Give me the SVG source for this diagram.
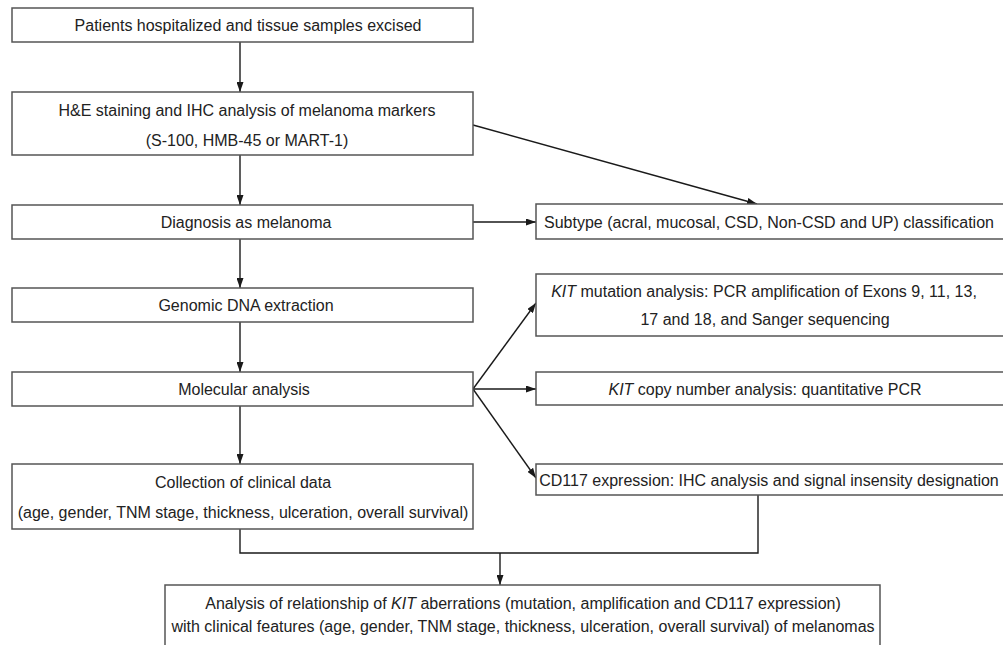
<svg xmlns="http://www.w3.org/2000/svg" width="1003" height="645" viewBox="0 0 1003 645">
<style>
.box{fill:#fff;stroke:#555;stroke-width:1.5}
.t{font-family:"Liberation Sans",Arial,sans-serif;font-size:16px;fill:#222;text-anchor:middle}
.c{fill:none;stroke:#1a1a1a;stroke-width:1.4}
</style>
<defs>
<marker id="ah" viewBox="0 0 10 7" refX="10" refY="3.5" markerWidth="10" markerHeight="7" markerUnits="userSpaceOnUse" orient="auto">
<path d="M0,0 L10,3.5 L0,7 Z" fill="#1a1a1a"/>
</marker>
</defs>
<rect width="1003" height="645" fill="#fff"/>
<g id="connectors">
<line class="c" x1="240" y1="42" x2="240" y2="92" marker-end="url(#ah)"/>
<line class="c" x1="240" y1="155" x2="240" y2="205" marker-end="url(#ah)"/>
<line class="c" x1="240" y1="239" x2="240" y2="288" marker-end="url(#ah)"/>
<line class="c" x1="240" y1="322" x2="240" y2="372" marker-end="url(#ah)"/>
<line class="c" x1="240" y1="406" x2="240" y2="464" marker-end="url(#ah)"/>
<line class="c" x1="473" y1="125" x2="757" y2="204" marker-end="url(#ah)"/>
<line class="c" x1="473" y1="222" x2="536" y2="222" marker-end="url(#ah)"/>
<line class="c" x1="473" y1="389" x2="536" y2="303" marker-end="url(#ah)"/>
<line class="c" x1="473" y1="389" x2="536" y2="389" marker-end="url(#ah)"/>
<line class="c" x1="473" y1="389" x2="536" y2="478" marker-end="url(#ah)"/>
<polyline class="c" points="240,529 240,553 758,553 758,495"/>
<line class="c" x1="500" y1="553" x2="500" y2="585" marker-end="url(#ah)"/>
</g>
<g id="n1"><rect class="box" x="12" y="8" width="461" height="34"/><text class="t" x="248" y="31">Patients hospitalized and tissue samples excised</text></g>
<g id="n2"><rect class="box" x="12" y="92" width="461" height="63"/><text class="t" x="247" y="116">H&amp;E staining and IHC analysis of melanoma markers</text><text class="t" x="247" y="146">(S-100, HMB-45 or MART-1)</text></g>
<g id="n3"><rect class="box" x="12" y="205" width="461" height="34"/><text class="t" x="246" y="228">Diagnosis as melanoma</text></g>
<g id="n4"><rect class="box" x="12" y="288" width="461" height="34"/><text class="t" x="246" y="311">Genomic DNA extraction</text></g>
<g id="n5"><rect class="box" x="12" y="372" width="461" height="34"/><text class="t" x="244" y="395">Molecular analysis</text></g>
<g id="n6"><rect class="box" x="12" y="464" width="461" height="65"/><text class="t" x="243" y="488">Collection of clinical data</text><text class="t" x="243" y="518">(age, gender, TNM stage, thickness, ulceration, overall survival)</text></g>
<g id="n7"><rect class="box" x="536" y="204" width="480" height="35"/><text class="t" x="769" y="228">Subtype (acral, mucosal, CSD, Non-CSD and UP) classification</text></g>
<g id="n8"><rect class="box" x="536" y="274" width="480" height="62"/><text class="t" x="764" y="297"><tspan font-style="italic">KIT</tspan> mutation analysis: PCR amplification of Exons 9, 11, 13,</text><text class="t" x="765" y="325">17 and 18, and Sanger sequencing</text></g>
<g id="n9"><rect class="box" x="536" y="372" width="480" height="33"/><text class="t" x="765" y="395"><tspan font-style="italic">KIT</tspan> copy number analysis: quantitative PCR</text></g>
<g id="n10"><rect class="box" x="536" y="464" width="480" height="31"/><text class="t" x="769" y="486">CD117 expression: IHC analysis and signal insensity designation</text></g>
<g id="n11"><rect class="box" x="165" y="585" width="715" height="80"/><text class="t" x="523" y="609">Analysis of relationship of <tspan font-style="italic">KIT</tspan> aberrations (mutation, amplification and CD117 expression)</text><text class="t" x="523" y="632">with clinical features (age, gender, TNM stage, thickness, ulceration, overall survival) of melanomas</text></g>
</svg>
